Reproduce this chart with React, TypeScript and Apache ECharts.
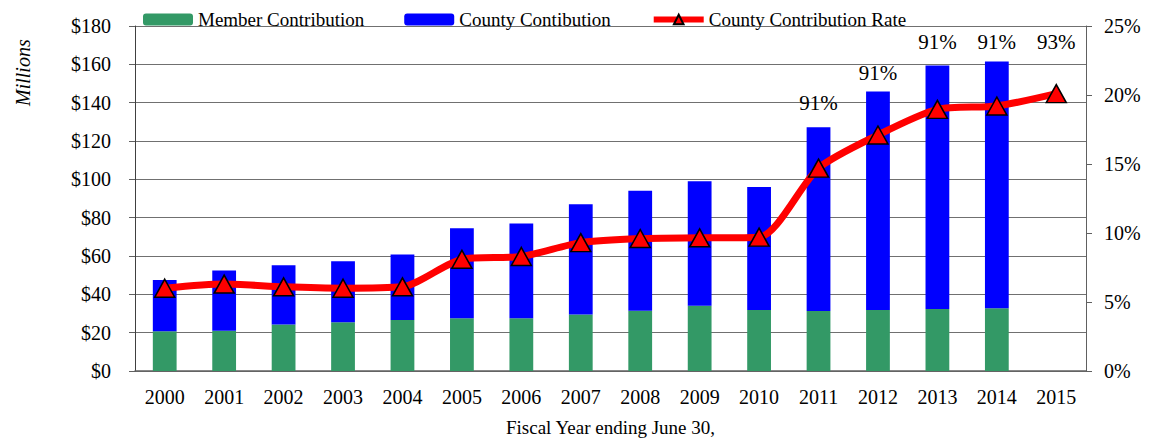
import React, { useEffect, useRef } from "react";
import * as echarts from "echarts";

const years = ["2000","2001","2002","2003","2004","2005","2006","2007","2008","2009","2010","2011","2012","2013","2014","2015"];
const member = [20.8, 21.0, 24.3, 25.5, 26.6, 27.5, 27.5, 29.5, 31.5, 34.0, 31.8, 31.3, 31.8, 32.4, 32.8, null];
const county = [26.7, 31.4, 30.9, 31.8, 34.2, 47.0, 49.5, 57.5, 62.5, 65.0, 64.2, 95.9, 114.0, 127.0, 128.7, null];
const rate = [6.0, 6.3, 6.1, 6.0, 6.1, 8.1, 8.3, 9.3, 9.6, 9.65, 9.7, 14.7, 17.1, 18.96, 19.2, 20.1];
const shareText = ["", "", "", "", "", "", "", "", "", "", "", "91%", "91%", "91%", "91%", "93%"];
const shareAnchor = [null, null, null, null, null, null, null, null, null, null, null, 140, 155.7, 171.9, 171.9, 171.4];

const FONT = "Liberation Serif";

export default function App() {
  const ref = useRef<HTMLDivElement>(null);
  useEffect(() => {
    if (!ref.current) return;
    const chart = echarts.init(ref.current, null, { renderer: "svg" });
    chart.setOption({
      animation: false,
      textStyle: { fontFamily: FONT, color: "#000" },
      grid: { left: 135, right: 67, top: 26, bottom: 71, outerBoundsMode: "none", containLabel: false },
      legend: {
        data: [
          { name: "Member Contribution" },
          { name: "County Contibution" },
          { name: "County Contribution Rate" },
        ],
        left: 138,
        top: 5,
        itemWidth: 50,
        itemHeight: 12,
        itemGap: 40,
        lineStyle: { width: 6 },
        textStyle: { fontFamily: FONT, fontSize: 19, color: "#000" },
      },
      graphic: [
        {
          type: "text",
          x: 13,
          y: 106,
          rotation: Math.PI / 2,
          style: { text: "Millions", fontFamily: FONT, fontSize: 20, fontStyle: "italic", fill: "#000" },
        },
      ],
      xAxis: {
        type: "category",
        data: years,
        name: "Fiscal Year ending June 30,",
        nameLocation: "middle",
        nameGap: 47,
        nameTextStyle: { fontFamily: FONT, fontSize: 19, color: "#000" },
        axisLine: { lineStyle: { color: "#606060", width: 1.5 } },
        axisTick: { show: false },
        axisLabel: { fontFamily: FONT, fontSize: 20, color: "#000", margin: 16, interval: 0 },
      },
      yAxis: [
        {
          type: "value",
          min: 0,
          max: 180,
          interval: 20,
          axisLine: { show: true, lineStyle: { color: "#404040", width: 1 } },
          axisTick: { show: true, length: 6, lineStyle: { color: "#606060" } },
          splitLine: { lineStyle: { color: "#707070", width: 1 } },
          axisLabel: { fontFamily: FONT, fontSize: 20, color: "#000", margin: 24, formatter: "${value}" },
        },
        {
          type: "value",
          min: 0,
          max: 25,
          interval: 5,
          position: "right",
          axisLine: { show: true, lineStyle: { color: "#606060", width: 1 } },
          axisTick: { show: true, length: 6, lineStyle: { color: "#606060" } },
          splitLine: { show: false },
          axisLabel: { fontFamily: FONT, fontSize: 20, color: "#000", margin: 18, formatter: "{value}%" },
        },
      ],
      series: [
        {
          name: "Member Contribution",
          type: "bar",
          stack: "total",
          barWidth: "40%",
          itemStyle: { color: "#339966" },
          data: member,
        },
        {
          name: "County Contibution",
          type: "bar",
          stack: "total",
          barWidth: "40%",
          itemStyle: { color: "#0000FF" },
          data: county,
        },
        {
          name: "County Contribution Rate",
          type: "line",
          yAxisIndex: 1,
          smooth: 0.25,
          data: rate,
          lineStyle: { color: "#FF0000", width: 7 },
          itemStyle: { color: "#FF0000", borderColor: "#000", borderWidth: 1.5 },
          symbol: "triangle",
          symbolSize: [20, 18],
          z: 5,
        },
        {
          name: "share",
          type: "scatter",
          data: shareAnchor,
          symbolSize: 0,
          silent: true,
          itemStyle: { opacity: 1 },
          label: {
            show: true,
            position: "inside",
            fontFamily: FONT,
            fontSize: 21,
            color: "#000",
            opacity: 1,
            formatter: (p: any) => shareText[p.dataIndex],
          },
          z: 6,
        },
      ],
    });
    return () => chart.dispose();
  }, []);
  return (
    <div
      ref={ref}
      style={{ position: "fixed", left: 0, top: 0, width: 1153, height: 442, background: "#fff" }}
    />
  );
}
